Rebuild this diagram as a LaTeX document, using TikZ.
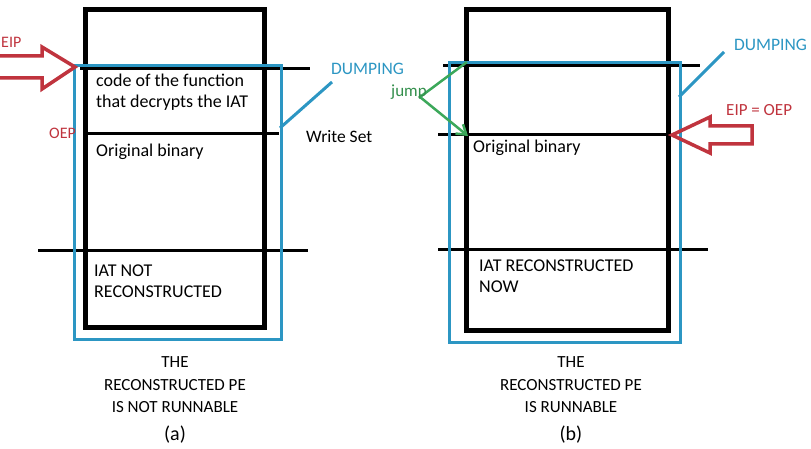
\documentclass[tikz,border=0pt]{standalone}
\usepackage{fontspec}
\setmainfont{Carlito}
\usetikzlibrary{arrows.meta}
\definecolor{dumpblue}{RGB}{44,150,195}
\definecolor{eipred}{RGB}{192,52,62}
\definecolor{jumpgreen}{RGB}{60,168,90}
\begin{document}
\begin{tikzpicture}[x=1pt,y=-1pt,
  boxline/.style={line width=5pt},
  sepline/.style={line width=3pt},
  dumprect/.style={draw=dumpblue,line width=3pt},
  dumpline/.style={draw=dumpblue,line width=3pt},
  redarrow/.style={draw=eipred,line width=3.5pt,line join=miter},
  txt/.style={inner sep=0pt,anchor=west,font=\fontsize{18}{21}\selectfont,align=left},
  captxt/.style={inner sep=0pt,font=\fontsize{17}{22.5}\selectfont,align=center},
  subtxt/.style={inner sep=0pt,font=\fontsize{20}{22}\selectfont},
  bluetxt/.style={inner sep=0pt,anchor=west,text=dumpblue,font=\fontsize{17.5}{20}\selectfont},
  redtxt/.style={inner sep=0pt,anchor=west,text=eipred,font=\fontsize{16}{18}\selectfont},
]
\useasboundingbox (0,0) rectangle (811,449);
\fill[white] (0,0) rectangle (811,449);

% ---------- panel (a) ----------
\draw[boxline] (85.5,10) rectangle (264,327);
\draw[sepline] (80,69) -- (310,69);
\draw[sepline] (86,134) -- (279,134);
\draw[sepline] (38,250.5) -- (308,250.5);
\draw[dumprect] (74,66) rectangle (281,339);
\coordinate (dlA1) at (280,128);
\coordinate (dlA2) at (332,82);
\draw[dumpline] (dlA1) -- (dlA2);
\draw[redarrow] (0,56) -- (42,56) -- (42,47) -- (75,67) -- (42,89) -- (42,78) -- (0,78);

\node[redtxt] (eipA) at (1,42) {EIP};
\node[redtxt] (oepA) at (49,133) {OEP};
\node[txt] (codeA) at (96,92.5) {code of the function\\that decrypts the IAT};
\node[txt] (origA) at (96,152) {Original binary};
\node[txt] (iatA) at (94,281) {IAT NOT\\RECONSTRUCTED};
\node[bluetxt] (dumpA) at (331,69) {DUMPING};
\node[txt,font=\fontsize{17.5}{20}\selectfont] (wsA) at (306,137) {Write Set};
\node[captxt] (capA) at (175,385) {THE\\RECONSTRUCTED PE\\IS NOT RUNNABLE};
\node[subtxt] (subA) at (175,435) {(a)};

% ---------- panel (b) ----------
\draw[boxline] (466,10) rectangle (668,330);
\draw[sepline] (443,66) -- (700,66);
\draw[sepline] (438,135) -- (668,135);
\draw[sepline] (438,249) -- (708,249);
\draw[dumprect] (449,63) rectangle (680,342);
\coordinate (dlB1) at (679,97);
\coordinate (dlB2) at (724,52);
\draw[dumpline] (dlB1) -- (dlB2);
\draw[redarrow] (752,126) -- (710,126) -- (710,117) -- (672,135) -- (710,153) -- (710,144) -- (752,144) -- cycle;

\coordinate (jA) at (467,62);
\coordinate (jB) at (420,97);
\coordinate (jC) at (468,136);
\draw[jumpgreen,line width=2.5pt,-{Straight Barb[length=9pt,width=12pt]}] (jA) -- (jB) -- (jC);

\node[txt] (origB) at (473,148) {Original binary};
\node[txt] (iatB) at (479,276) {IAT RECONSTRUCTED\\NOW};
\node[bluetxt] (dumpB) at (734,45) {DUMPING};
\node[redtxt,font=\fontsize{17}{20}\selectfont] (eipB) at (726,110) {EIP = OEP};
\node[inner sep=0pt,anchor=west,text=jumpgreen!85!black,font=\fontsize{17}{20}\selectfont] (jumpB) at (391,92) {jump};
\node[captxt] (capB) at (571,385) {THE\\RECONSTRUCTED PE\\IS RUNNABLE};
\node[subtxt] (subB) at (571,435) {(b)};
\end{tikzpicture}
\end{document}
